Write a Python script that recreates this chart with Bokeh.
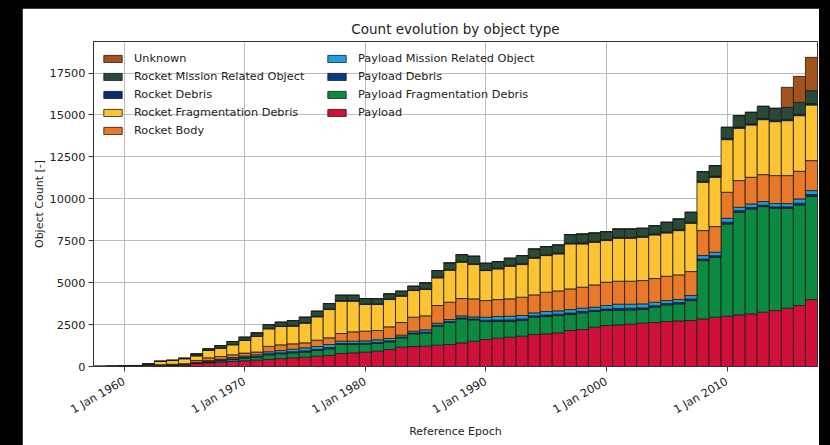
import math

from bokeh.embed import file_html
from bokeh.models import (ColumnDataSource, FixedTicker, Legend, LegendItem,
                          Range1d)
from bokeh.plotting import figure
from bokeh.resources import INLINE

FONT = "DejaVu Sans"
TEXT = "#222222"

# Catalogue counts on 1 January of each year, by object class
years = list(range(1958, 2018))

payload = [
    2, 5, 12,
    20, 40, 55, 75, 100, 180, 220, 260, 300, 340,
    380, 420, 470, 517, 556, 616, 656, 775, 815, 854,
    914, 1013, 1152, 1190, 1212, 1272, 1311, 1411, 1510, 1609,
    1689, 1748, 1808, 1907, 1947, 2006, 2145, 2205, 2344, 2443,
    2483, 2523, 2582, 2622, 2682, 2721, 2741, 2840, 2940, 2999,
    3079, 3139, 3238, 3337, 3476, 3635, 3993,
]
payload_frag = [
    0, 0, 0,
    0, 2, 5, 7, 10, 20, 50, 80, 120, 160,
    180, 280, 290, 298, 298, 338, 397, 536, 496, 477,
    457, 457, 557, 757, 775, 1132, 1312, 1430, 1272, 1073,
    993, 934, 933, 1033, 1033, 1034, 954, 993, 934, 894,
    874, 854, 815, 914, 993, 1014, 1192, 3477, 3576, 5503,
    6118, 6257, 6297, 6099, 5960, 5999, 6158,
]
payload_debris = [
    0, 0, 0,
    0, 0, 1, 2, 3, 15, 24, 27, 33, 36,
    42, 54, 57, 65, 78, 71, 77, 60, 60, 60,
    66, 60, 48, 48, 60, 53, 53, 54, 53, 77,
    89, 95, 90, 77, 89, 83, 89, 84, 77, 89,
    107, 101, 101, 89, 77, 77, 89, 89, 89, 101,
    89, 89, 89, 83, 83, 107, 101,
]
payload_mro = [
    0, 0, 0,
    0, 3, 4, 6, 7, 35, 56, 63, 77, 84,
    98, 126, 133, 153, 181, 167, 181, 139, 139, 139,
    153, 140, 111, 111, 139, 123, 124, 125, 125, 181,
    209, 223, 209, 181, 209, 194, 209, 195, 181, 209,
    251, 237, 236, 209, 181, 181, 209, 209, 208, 237,
    209, 209, 209, 195, 195, 251, 237,
]
rocket_body = [
    2, 5, 10,
    20, 30, 40, 45, 50, 110, 167, 166, 170, 180,
    160, 320, 340, 318, 298, 378, 398, 457, 556, 576,
    556, 695, 755, 835, 834, 1056, 1035, 1033, 1074, 993,
    1013, 1033, 1092, 1073, 1152, 1192, 1231, 1251, 1331, 1391,
    1370, 1370, 1391, 1410, 1450, 1470, 1431, 1490, 1530, 1549,
    1590, 1589, 1609, 1669, 1669, 1648, 1788,
]
rocket_frag = [
    0, 0, 0,
    15, 65, 195, 220, 295, 276, 437, 497, 592, 750,
    928, 1045, 1094, 1053, 1172, 1391, 1689, 1928, 1829, 1590,
    1550, 1629, 1570, 1589, 1570, 1649, 1907, 2166, 2046, 1788,
    1827, 1946, 1947, 2185, 2185, 2205, 2682, 2582, 2542, 2483,
    2563, 2563, 2582, 2603, 2583, 2642, 2880, 2880, 2940, 3139,
    3118, 3119, 3278, 3218, 3277, 3318, 3317,
]
rocket_debris = [
    0, 0, 0,
    0, 0, 2, 2, 3, 12, 10, 16, 20, 20,
    22, 26, 26, 34, 36, 34, 36, 36, 36, 36,
    36, 34, 30, 26, 40, 44, 44, 46, 50, 44,
    44, 48, 54, 56, 54, 54, 56, 60, 56, 54,
    56, 56, 54, 56, 64, 70, 66, 64, 70, 74,
    76, 76, 79, 79, 80, 80, 85,
]
rocket_mro = [
    0, 0, 0,
    5, 10, 16, 20, 29, 107, 89, 143, 178, 179,
    197, 233, 233, 304, 322, 303, 321, 321, 321, 321,
    321, 304, 268, 233, 357, 394, 394, 411, 447, 393,
    393, 429, 482, 500, 482, 482, 501, 536, 501, 482,
    500, 500, 483, 500, 571, 625, 589, 572, 626, 661,
    679, 679, 715, 715, 715, 715, 769,
]
unknown = [0] * 57 + [1192, 1549, 1987]

# (column, label, colour) in stacking order, bottom first
layers = [
    ("payload", "Payload", "#d0103a"),
    ("payload_frag", "Payload Fragmentation Debris", "#0c8a41"),
    ("payload_debris", "Payload Debris", "#0b3889"),
    ("payload_mro", "Payload Mission Related Object", "#1c9fe0"),
    ("rocket_body", "Rocket Body", "#e9792a"),
    ("rocket_frag", "Rocket Fragmentation Debris", "#fcc433"),
    ("rocket_debris", "Rocket Debris", "#0b2b6a"),
    ("rocket_mro", "Rocket Mission Related Object", "#284a37"),
    ("unknown", "Unknown", "#a3531c"),
]

source = ColumnDataSource(dict(
    year=years,
    payload=payload,
    payload_frag=payload_frag,
    payload_debris=payload_debris,
    payload_mro=payload_mro,
    rocket_body=rocket_body,
    rocket_frag=rocket_frag,
    rocket_debris=rocket_debris,
    rocket_mro=rocket_mro,
    unknown=unknown,
))

decade_ticks = [1960, 1970, 1980, 1990, 2000, 2010]
count_ticks = list(range(0, 17501, 2500))

p = figure(
    width=797, height=437,
    x_range=Range1d(1957.45, 2017.5),
    y_range=Range1d(0, 19380),
    output_backend="svg",
    toolbar_location=None,
    min_border_left=71, min_border_right=2,
    min_border_top=33, min_border_bottom=79,
    title="Count evolution by object type",
    background_fill_color="white",
    border_fill_color="white",
)

p.title.align = "center"
p.title.text_font = FONT
p.title.text_font_size = "13.5px"
p.title.text_font_style = "normal"
p.title.text_color = TEXT

renderers = p.vbar_stack(
    [key for key, _, _ in layers],
    x="year", width=1.0, source=source,
    fill_color=[c for _, _, c in layers],
    line_color="#1b1b1b", line_width=0.8,
)
by_key = {key: r for (key, _, _), r in zip(layers, renderers)}
labels = {key: label for key, label, _ in layers}

# Axes
p.xaxis.ticker = FixedTicker(ticks=decade_ticks)
p.xaxis.major_label_overrides = {t: f"1 Jan {t}" for t in decade_ticks}
p.xaxis.major_label_orientation = math.pi / 6
p.yaxis.ticker = FixedTicker(ticks=count_ticks)
p.xaxis.axis_label = "Reference Epoch"
p.yaxis.axis_label = "Object Count [-]"

for ax in (p.xaxis[0], p.yaxis[0]):
    ax.axis_label_text_font = FONT
    ax.axis_label_text_font_size = "11px"
    ax.axis_label_text_font_style = "normal"
    ax.axis_label_text_color = TEXT
    ax.major_label_text_font = FONT
    ax.major_label_text_font_size = "11.3px"
    ax.major_label_text_color = TEXT
    ax.major_tick_in = 0
    ax.major_tick_out = 5
    ax.major_tick_line_color = "#333333"
    ax.minor_tick_line_color = None
    ax.axis_line_color = "#333333"
    ax.major_label_standoff = 3
p.xaxis.major_label_standoff = 9
p.yaxis.axis_label_standoff = 1
p.xaxis.axis_label_standoff = 0

p.xgrid.ticker = FixedTicker(ticks=decade_ticks)
p.ygrid.ticker = FixedTicker(ticks=count_ticks)
p.grid.grid_line_color = "#b4b4b4"
p.grid.grid_line_width = 0.9
p.outline_line_color = "#333333"
p.outline_line_width = 1


def make_legend(keys, loc):
    leg = Legend(
        items=[LegendItem(label=labels[k], renderers=[by_key[k]]) for k in keys],
        location=loc,
        background_fill_alpha=0,
        border_line_color=None,
        label_text_font=FONT,
        label_text_font_size="11.3px",
        label_text_color=TEXT,
        glyph_width=23, glyph_height=9,
        label_standoff=10,
        label_height=14,
        spacing=4,
        padding=6,
        margin=0,
    )
    p.add_layout(leg)


make_legend(["unknown", "rocket_mro", "rocket_debris", "rocket_frag", "rocket_body"], (8, 229))
make_legend(["payload_mro", "payload_debris", "payload_frag", "payload"], (232, 247))

html = file_html(p, INLINE, title="Count evolution by object type")
style = ("<style>html,body{margin:0;padding:0;background:#000;}"
         "body{padding:8px 0 0 22px;overflow:hidden;}</style>")
html = html.replace("</head>", style + "</head>", 1)
with open("out.html", "w") as f:
    f.write(html)
